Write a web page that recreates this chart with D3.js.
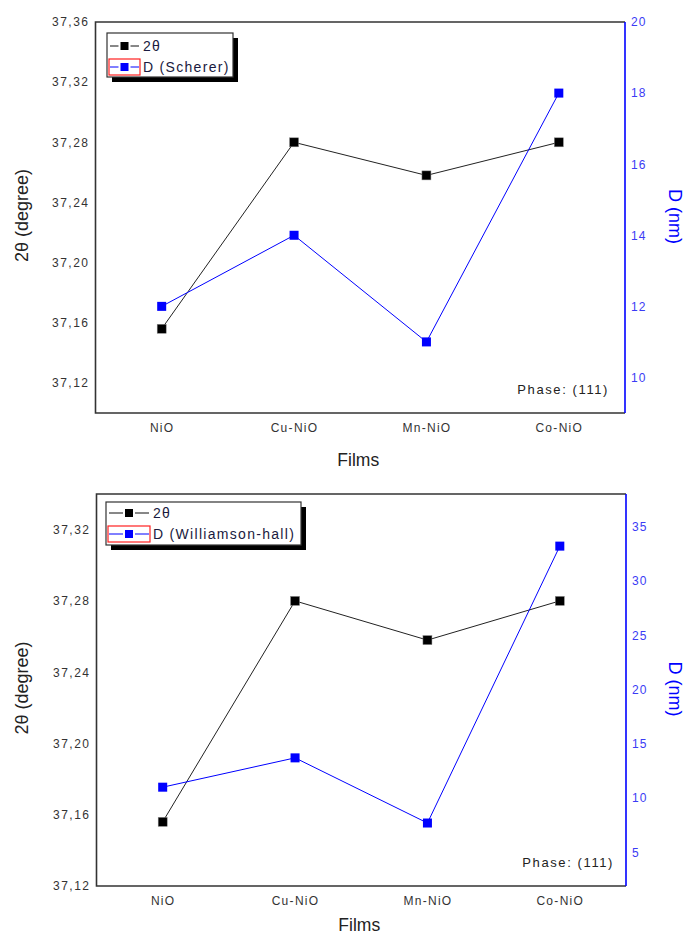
<!DOCTYPE html>
<html>
<head>
<meta charset="utf-8">
<script src="https://cdn.jsdelivr.net/npm/d3@7"></script>
<style>
  body { margin: 0; background: #fff; }
  svg { display: block; }
  text { font-family: "Liberation Sans", Arial, sans-serif; }
</style>
</head>
<body>
<svg id="chart" width="684" height="937"></svg>
<script>
// Films and measured values
const categories = ["NiO", "Cu-NiO", "Mn-NiO", "Co-NiO"];
const twoTheta = [37.156, 37.280, 37.258, 37.280];           // 2θ peak position, degrees
const dScherer = [12, 14, 11, 18];                            // crystallite size (Scherer), nm
const dWilliamsonHall = [11, 13.7, 7.7, 33.2];                // crystallite size (Williamson-Hall), nm

// Axis ticks
const thetaTicksTop = [37.12, 37.16, 37.20, 37.24, 37.28, 37.32, 37.36];
const thetaTicksBottom = [37.12, 37.16, 37.20, 37.24, 37.28, 37.32];
const dTicksTop = [10, 12, 14, 16, 18, 20];
const dTicksBottom = [5, 10, 15, 20, 25, 30, 35];

const svg = d3.select("#chart");
const BLUE = "#0000ff";
const AXIS_BLUE = "#3b3bf5";
const DARK = "#333";
const FONT = "Liberation Sans, Arial, sans-serif";

const commaFmt = v => d3.format(".2f")(v).replace(".", ",");

function panel(cfg) {
  const { x0, x1, y0, y1 } = cfg;
  const g = svg.append("g");

  const x = d3.scalePoint().domain(categories).range([x0, x1]).padding(0.5);
  const yL = d3.scaleLinear().domain(cfg.leftDomain).range([y1, y0]);
  const yR = d3.scaleLinear().domain(cfg.rightDomain).range([y1, y0]);

  // Left axis labels
  const axL = g.append("g").attr("transform", `translate(${x0},0)`)
    .call(d3.axisLeft(yL).tickValues(cfg.leftTicks).tickSize(0).tickPadding(6).tickFormat(commaFmt));
  axL.select(".domain").remove();
  axL.selectAll("text").attr("font-size", 12).attr("fill", DARK).attr("letter-spacing", 1.5)
    .attr("font-family", FONT);

  // Right axis labels
  const axR = g.append("g").attr("transform", `translate(${x1},0)`)
    .call(d3.axisRight(yR).tickValues(cfg.rightTicks).tickSize(0).tickPadding(6));
  axR.select(".domain").remove();
  axR.selectAll("text").attr("font-size", 12).attr("fill", AXIS_BLUE).attr("letter-spacing", 1.2)
    .attr("font-family", FONT);

  // Bottom category labels
  const axB = g.append("g").attr("transform", `translate(0,${y1})`)
    .call(d3.axisBottom(x).tickSize(0).tickPadding(10));
  axB.select(".domain").remove();
  axB.selectAll("text").attr("font-size", 12).attr("fill", DARK).attr("letter-spacing", 1.3)
    .attr("font-family", FONT);

  // Frame: dark on three sides, blue on the right (D axis)
  g.append("path").attr("d", `M${x1},${y0}H${x0}V${y1}H${x1}`)
    .attr("fill", "none").attr("stroke", DARK).attr("stroke-width", 1.6);
  g.append("line").attr("x1", x1).attr("x2", x1).attr("y1", y0).attr("y2", y1)
    .attr("stroke", BLUE).attr("stroke-width", 1.6);

  // Axis titles
  g.append("text").attr("transform", `translate(22,${(y0 + y1) / 2 - 2}) rotate(-90)`)
    .attr("text-anchor", "middle").attr("dominant-baseline", "central")
    .attr("font-size", 18).attr("fill", "#222").text("2θ (degree)");
  g.append("text").attr("transform", `translate(675,${(y0 + y1) / 2 - 1}) rotate(90)`)
    .attr("text-anchor", "middle").attr("dominant-baseline", "central")
    .attr("font-size", 18).attr("fill", BLUE).text("D (nm)");
  g.append("text").attr("x", (x0 + x1) / 2 - 2).attr("y", y1 + cfg.filmsOffset)
    .attr("text-anchor", "middle").attr("dominant-baseline", "central")
    .attr("font-size", 17.5).attr("fill", "#222").text("Films");

  // Phase annotation
  g.append("text").attr("x", x1 - cfg.phaseInset).attr("y", y1 - 24)
    .attr("text-anchor", "end").attr("dominant-baseline", "central")
    .attr("font-size", 13).attr("fill", "#222")
    .attr("letter-spacing", 1.6).text("Phase: (111)");

  // Series
  const lineL = d3.line().x((d, i) => x(categories[i])).y(d => yL(d));
  const lineR = d3.line().x((d, i) => x(categories[i])).y(d => yR(d));

  g.append("path").datum(twoTheta).attr("d", lineL)
    .attr("fill", "none").attr("stroke", "#222").attr("stroke-width", 1);
  g.append("path").datum(cfg.dValues).attr("d", lineR)
    .attr("fill", "none").attr("stroke", BLUE).attr("stroke-width", 1);

  const ms = 9;
  g.selectAll(".mT").data(twoTheta).enter().append("rect")
    .attr("x", (d, i) => x(categories[i]) - ms / 2).attr("y", d => yL(d) - ms / 2)
    .attr("width", ms).attr("height", ms).attr("fill", "#000").attr("stroke", "#888").attr("stroke-width", 0.5);
  g.selectAll(".mD").data(cfg.dValues).enter().append("rect")
    .attr("x", (d, i) => x(categories[i]) - ms / 2).attr("y", d => yR(d) - ms / 2)
    .attr("width", ms).attr("height", ms).attr("fill", BLUE);

  // Legend with drop shadow
  const L = cfg.legend;
  g.append("rect").attr("x", L.x + 5).attr("y", L.y + 5).attr("width", L.w).attr("height", L.h).attr("fill", "#000");
  g.append("rect").attr("x", L.x).attr("y", L.y).attr("width", L.w).attr("height", L.h)
    .attr("fill", "#fff").attr("stroke", DARK).attr("stroke-width", 1.2);

  const rows = [
    { label: "2θ", color: "#111", y: L.y + L.r1 },
    { label: cfg.dLabel, color: BLUE, y: L.y + L.r2 }
  ];
  rows.forEach((r, k) => {
    const sx0 = L.x + 3, sx1 = L.x + 3 + L.sym, mid = (sx0 + sx1) / 2;
    g.append("line").attr("x1", sx0).attr("x2", mid - 6).attr("y1", r.y).attr("y2", r.y)
      .attr("stroke", r.color).attr("stroke-width", 1);
    g.append("line").attr("x1", mid + 6).attr("x2", sx1).attr("y1", r.y).attr("y2", r.y)
      .attr("stroke", r.color).attr("stroke-width", 1);
    g.append("rect").attr("x", mid - 4).attr("y", r.y - 4).attr("width", 8).attr("height", 8)
      .attr("fill", k === 0 ? "#000" : BLUE);
    if (k === 1) {
      g.append("rect").attr("x", sx0 - 1).attr("y", r.y - 8).attr("width", L.sym + 2).attr("height", 16)
        .attr("fill", "none").attr("stroke", "#ff2020").attr("stroke-width", 1.2);
    }
    g.append("text").attr("x", sx1 + 4).attr("y", r.y).attr("dominant-baseline", "central")
      .attr("font-size", 14).attr("fill", "#1a1a40").attr("letter-spacing", 1.3).text(r.label);
  });
}

panel({
  x0: 95.5, x1: 625, y0: 22, y1: 413,
  leftDomain: [37.1, 37.36], rightDomain: [9, 20],
  leftTicks: thetaTicksTop, rightTicks: dTicksTop,
  dValues: dScherer, dLabel: "D (Scherer)",
  filmsOffset: 47, phaseInset: 16,
  legend: { x: 107, y: 33, w: 126, h: 44, r1: 13, r2: 34, sym: 29 }
});

panel({
  x0: 96.5, x1: 626, y0: 494, y1: 886,
  leftDomain: [37.12, 37.34], rightDomain: [1.9, 38],
  leftTicks: thetaTicksBottom, rightTicks: dTicksBottom,
  dValues: dWilliamsonHall, dLabel: "D  (Williamson-hall)",
  filmsOffset: 39, phaseInset: 12,
  legend: { x: 106, y: 502, w: 195, h: 43, r1: 11, r2: 32, sym: 40 }
});
</script>
</body>
</html>
